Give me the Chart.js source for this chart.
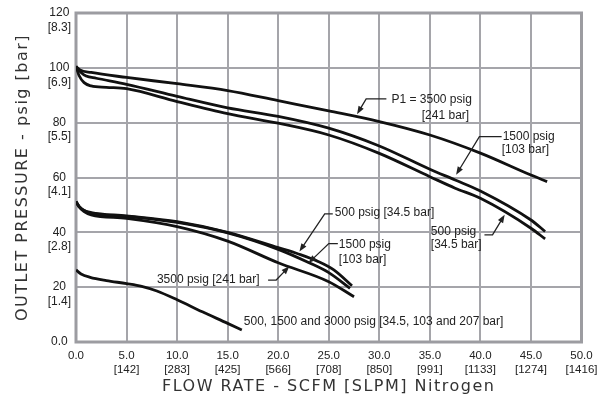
<!DOCTYPE html>
<html>
<head>
<meta charset="utf-8">
<script src="https://cdn.jsdelivr.net/npm/chart.js@4.4.1/dist/chart.umd.min.js"></script>
<style>
  html, body { margin: 0; padding: 0; background: #fff; }
</style>
</head>
<body>
<canvas id="chart" width="613" height="409"></canvas>
<script>
// tick labels (two unit systems)
const flowScfm = ['0.0', '5.0', '10.0', '15.0', '20.0', '25.0', '30.0', '35.0', '40.0', '45.0', '50.0'];
const flowSlpm = ['', '[142]', '[283]', '[425]', '[566]', '[708]', '[850]', '[991]', '[1133]', '[1274]', '[1416]'];
const pressPsig = ['0.0', '20', '40', '60', '80', '100', '120'];
const pressBar = ['', '[1.4]', '[2.8]', '[4.1]', '[5.5]', '[6.9]', '[8.3]'];

// outlet set ~100 psig
const hi3500Flow = [0, 0.4, 1.5, 5, 10, 15, 20, 25, 30, 35, 40, 45, 46.6];
const hi3500Psig = [100.5, 99.2, 98.3, 96.5, 94.2, 91.7, 88.0, 84.3, 80.4, 75.5, 68.9, 60.9, 58.5];
const hi1500Flow = [0, 0.5, 1, 2, 5, 10, 15, 20, 25, 30, 35, 37.5, 40, 45, 46.4];
const hi1500Psig = [100.5, 98.3, 97.0, 96.2, 94.0, 89.6, 85.4, 82.3, 78.0, 71.5, 63.0, 59.1, 55.1, 44.5, 40.3];
const hi500Flow = [0, 0.3, 0.8, 1.5, 3, 5, 10, 15, 20, 25, 30, 35, 37.5, 40, 45, 46.4];
const hi500Psig = [100.5, 97.2, 94.6, 93.4, 92.9, 92.4, 87.7, 83.3, 79.8, 75.5, 68.8, 60.3, 56.1, 52.4, 41.5, 37.6];

// outlet set ~50 psig
const mid500Flow = [0, 0.3, 0.8, 1.5, 5, 10, 15, 20, 22, 24, 25.5, 27.3];
const mid500Psig = [51.2, 49.5, 48.0, 47.2, 46.0, 43.9, 40.0, 34.4, 32.1, 29.3, 26.3, 20.5];
const mid1500Flow = [0, 0.3, 0.8, 1.5, 5, 10, 15, 20, 23, 25, 27.1];
const mid1500Psig = [51.2, 49.5, 48.0, 47.0, 45.8, 43.6, 39.8, 33.8, 29.0, 25.3, 19.6];
const mid3500Flow = [0, 0.3, 0.8, 1.5, 5, 10, 15, 20, 25, 27.5];
const mid3500Psig = [51.2, 49.3, 47.6, 46.4, 45.1, 42.1, 36.8, 28.9, 22.0, 16.5];

// outlet set ~25 psig (500, 1500 and 3000 psig inlet)
const lowFlow = [0, 0.5, 1.4, 3, 5, 6.5, 8, 10, 12.5, 15, 16.4];
const lowPsig = [26.3, 24.8, 23.6, 22.4, 21.3, 20.3, 18.6, 15.4, 11.0, 6.8, 4.4];

// callouts, placed in axis units
const notes = [
  { text: [['P1 = 3500 psig', 31.2, 88.3], ['[241 bar]', 34.2, 82.6]], lead: [[30.7, 88.7], [28.7, 88.7], [27.8, 83.1]] },
  { text: [['1500 psig', 42.2, 74.9], ['[103 bar]', 42.1, 70.1]], lead: [[42.1, 74.9], [39.9, 74.9], [37.6, 61.0]] },
  { text: [['500 psig', 35.1, 40.3], ['[34.5 bar]', 35.1, 35.4]], lead: [[40.4, 39.1], [41.2, 39.1], [42.4, 46.4]] },
  { text: [['500 psig [34.5 bar]', 25.6, 47.3]], lead: [[25.4, 46.7], [24.6, 46.7], [22.1, 33.0]] },
  { text: [['1500 psig', 26.0, 35.4], ['[103 bar]', 26.0, 29.9]], lead: [[25.9, 35.9], [25.0, 35.9], [23.0, 28.8]] },
  { text: [['3500 psig [241 bar]', 8.0, 22.6]], lead: [[19.0, 22.6], [19.8, 22.6], [21.1, 27.6]] },
  { text: [['500, 1500 and 3000 psig [34.5, 103 and 207 bar]', 16.6, 7.4]] }
];

const pairs = (xs, ys) => xs.map((v, i) => ({ x: v, y: ys[i] }));

const curve = (label, xs, ys) => ({
  label: label,
  data: pairs(xs, ys),
  borderColor: '#111',
  borderWidth: 2.8,
  pointRadius: 0,
  fill: false,
  cubicInterpolationMode: 'monotone'
});

// wider spacing for the axis titles only (titles draw before datasets, tick labels after)
const spacingPlugin = {
  id: 'spacing',
  beforeDraw(chart) { chart.ctx.letterSpacing = '1.5px'; },
  beforeDatasetsDraw(chart) { chart.ctx.letterSpacing = '0px'; }
};

const framePlugin = {
  id: 'frame',
  beforeDatasetsDraw(chart) {
    const { ctx, chartArea: a } = chart;
    ctx.save();
    ctx.strokeStyle = '#9c9ca1';
    ctx.lineWidth = 3;
    ctx.strokeRect(a.left, a.top, a.right - a.left, a.bottom - a.top);
    ctx.restore();
  }
};

const notesPlugin = {
  id: 'notes',
  afterDatasetsDraw(chart) {
    const { ctx } = chart;
    const sx = chart.scales.x, sy = chart.scales.y;
    ctx.save();
    ctx.font = '12px "Liberation Sans", Arial, sans-serif';
    ctx.fillStyle = '#222';
    ctx.strokeStyle = '#222';
    ctx.textBaseline = 'middle';
    ctx.lineWidth = 1.3;
    notes.forEach(n => {
      n.text.forEach(t => ctx.fillText(t[0], sx.getPixelForValue(t[1]), sy.getPixelForValue(t[2])));
      if (!n.lead) return;
      const pts = n.lead.map(p => [sx.getPixelForValue(p[0]), sy.getPixelForValue(p[1])]);
      const a = pts[pts.length - 2], b = pts[pts.length - 1];
      const ang = Math.atan2(b[1] - a[1], b[0] - a[0]);
      const len = 8, half = 3;
      ctx.beginPath();
      ctx.moveTo(pts[0][0], pts[0][1]);
      for (let i = 1; i < pts.length - 1; i++) ctx.lineTo(pts[i][0], pts[i][1]);
      ctx.lineTo(b[0] - len * 0.7 * Math.cos(ang), b[1] - len * 0.7 * Math.sin(ang));
      ctx.stroke();
      ctx.beginPath();
      ctx.moveTo(b[0], b[1]);
      ctx.lineTo(b[0] - len * Math.cos(ang) + half * Math.sin(ang), b[1] - len * Math.sin(ang) - half * Math.cos(ang));
      ctx.lineTo(b[0] - len * Math.cos(ang) - half * Math.sin(ang), b[1] - len * Math.sin(ang) + half * Math.cos(ang));
      ctx.closePath();
      ctx.fill();
    });
    ctx.restore();
  }
};

const titleFont = { family: '"DejaVu Sans", Verdana, sans-serif', size: 16 };

new Chart(document.getElementById('chart'), {
  type: 'line',
  data: {
    datasets: [
      curve('P1 = 3500 psig', hi3500Flow, hi3500Psig),
      curve('1500 psig', hi1500Flow, hi1500Psig),
      curve('500 psig', hi500Flow, hi500Psig),
      curve('500 psig', mid500Flow, mid500Psig),
      curve('1500 psig', mid1500Flow, mid1500Psig),
      curve('3500 psig', mid3500Flow, mid3500Psig),
      curve('500, 1500 and 3000 psig', lowFlow, lowPsig)
    ]
  },
  options: {
    responsive: false,
    animation: false,
    layout: { padding: { left: 0, top: 13, right: 31.5, bottom: 0 } },
    plugins: { legend: { display: false }, tooltip: { enabled: false } },
    scales: {
      x: {
        type: 'linear',
        min: 0,
        max: 50,
        grid: { color: '#a5a5aa', lineWidth: 2, drawTicks: false },
        border: { display: false },
        ticks: {
          z: 1,
          stepSize: 5,
          padding: 7,
          color: '#222',
          font: { family: '"Liberation Sans", Arial, sans-serif', size: 11.5 },
          maxRotation: 0,
          autoSkip: false,
          callback: (v, i) => flowSlpm[i] ? [flowScfm[i], flowSlpm[i]] : flowScfm[i]
        },
        title: {
          display: true,
          text: 'FLOW RATE - SCFM [SLPM] Nitrogen',
          color: '#333',
          font: titleFont,
          padding: { top: 0, bottom: 13 }
        },
        afterFit(s) { s.height = 67; s.paddingLeft = 0; s.paddingRight = 0; }
      },
      y: {
        min: 0,
        max: 120,
        grid: { color: '#a5a5aa', lineWidth: 2, drawTicks: false },
        border: { display: false },
        ticks: {
          z: 1,
          stepSize: 20,
          padding: 5,
          color: '#222',
          font: { family: '"Liberation Sans", Arial, sans-serif', size: 12 },
          crossAlign: 'center',
          autoSkip: false,
          callback: (v, i) => pressBar[i] ? ['', pressPsig[i], pressBar[i]] : pressPsig[i]
        },
        title: {
          display: true,
          text: 'OUTLET PRESSURE - psig [bar]',
          color: '#333',
          font: titleFont,
          padding: { top: 13, bottom: 0 }
        },
        afterFit(s) { s.width = 76; s.paddingTop = 0; s.paddingBottom = 0; }
      }
    }
  },
  plugins: [spacingPlugin, framePlugin, notesPlugin]
});
</script>
</body>
</html>
